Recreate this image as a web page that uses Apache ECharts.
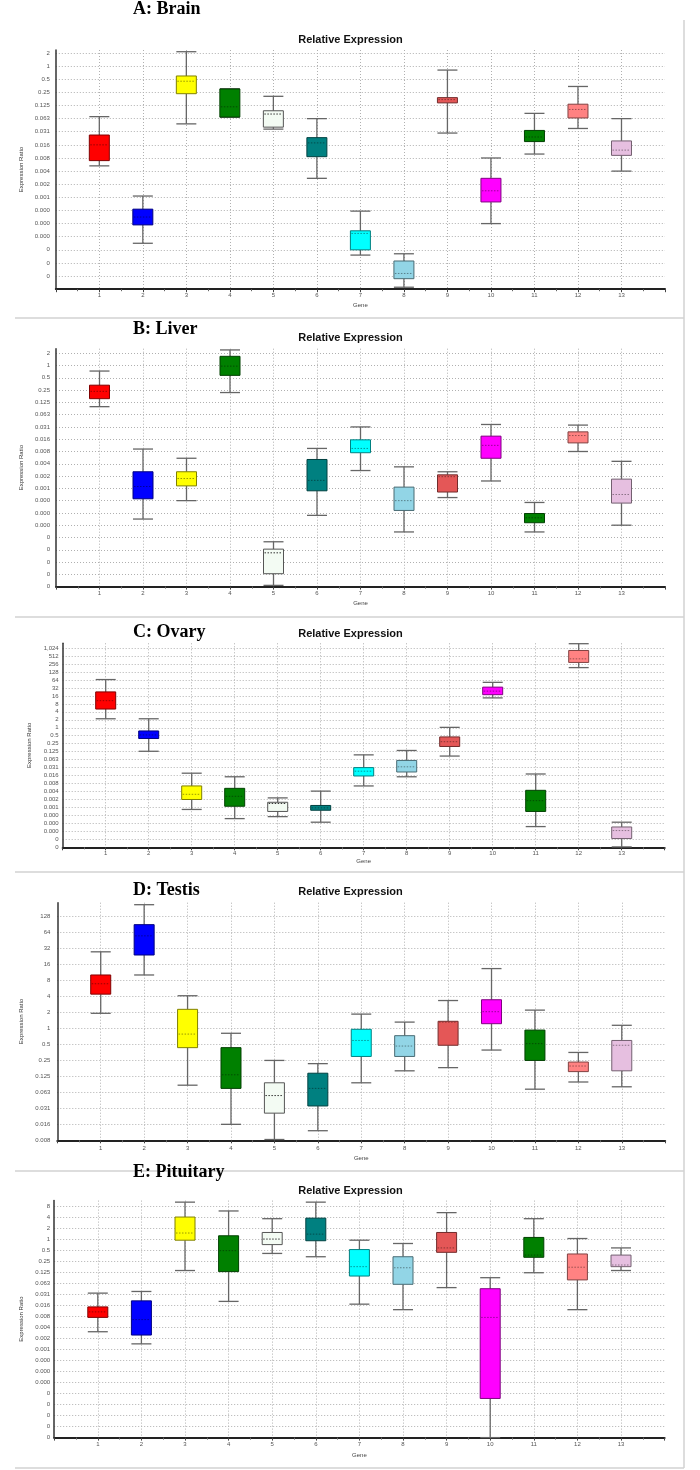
<!DOCTYPE html>
<html><head><meta charset="utf-8">
<script src="https://cdn.jsdelivr.net/npm/echarts@6/dist/echarts.min.js"></script>
<style>html,body{margin:0;padding:0;background:#fff}#c{width:700px;height:1470px}</style>
</head><body><div id="c"></div>
<script>
// ---- text ----
const panelNames = ['A: Brain', 'B: Liver', 'C: Ovary', 'D: Testis', 'E: Pituitary'];
const chartTitle = 'Relative Expression';
const yAxisName = 'Expression Ratio';
const xAxisName = 'Gene';

// ---- categories ----
const genes = [1, 2, 3, 4, 5, 6, 7, 8, 9, 10, 11, 12, 13];
const geneColors = ['#ff0000', '#0000ff', '#ffff00', '#008000', '#f3fbf3', '#008080', '#00ffff',
                    '#92d5e6', '#e45757', '#ff00ff', '#008000', '#ff8282', '#e6bfe0'];

// ---- values: [min, Q1, median, Q3, max] as log2(expression ratio) ----
const brain = [
  [-7.6, -7.2, -6.0, -5.25, -3.85],
  [-13.5, -12.1, -11.5, -10.9, -9.9],
  [-4.4, -2.1, -1.15, -0.75, 1.1],
  [-3.9, -3.88, -3.1, -1.74, -1.72],
  [-4.8, -4.65, -3.65, -3.4, -2.3],
  [-8.55, -6.9, -5.85, -5.45, -4.0],
  [-14.4, -14.0, -12.75, -12.55, -11.05],
  [-16.85, -16.2, -15.8, -14.85, -14.3],
  [-5.1, -2.8, -2.55, -2.4, -0.3],
  [-12.0, -10.35, -9.5, -8.55, -7.0],
  [-6.7, -5.75, -5.4, -4.9, -3.6],
  [-4.75, -3.95, -3.3, -2.9, -1.55],
  [-8.0, -6.8, -6.4, -5.7, -4.0]
];
const liver = [
  [-3.35, -2.7, -2.1, -1.6, -0.45],
  [-12.5, -10.85, -9.85, -8.65, -6.8],
  [-11.0, -9.8, -9.2, -8.65, -7.55],
  [-2.2, -0.8, -0.05, 0.75, 1.27],
  [-17.9, -16.95, -15.25, -14.95, -14.35],
  [-12.2, -10.2, -9.35, -7.65, -6.75],
  [-8.55, -7.1, -6.75, -6.05, -5.0],
  [-13.55, -11.8, -11.0, -9.9, -8.25],
  [-10.75, -10.3, -9.05, -8.9, -8.65],
  [-9.4, -7.55, -6.5, -5.75, -4.8],
  [-13.55, -12.8, -12.4, -12.05, -11.15],
  [-7.0, -6.3, -5.7, -5.4, -4.85],
  [-13.0, -11.2, -10.5, -9.25, -7.8]
];
const ovary = [
  [1.13, 2.35, 3.4, 4.5, 6.05],
  [-2.95, -1.35, -0.9, -0.4, 1.13],
  [-10.25, -9.0, -8.35, -7.3, -5.7],
  [-11.4, -9.85, -8.6, -7.6, -6.15],
  [-11.15, -10.5, -9.5, -9.35, -8.8],
  [-11.85, -10.35, -10.05, -9.75, -7.95],
  [-7.3, -6.05, -5.45, -5.0, -3.4],
  [-6.15, -5.55, -4.9, -4.1, -2.85],
  [-3.55, -2.35, -1.75, -1.15, 0.05],
  [3.75, 4.15, 4.6, 5.1, 5.7],
  [-12.4, -10.5, -9.15, -7.85, -5.8],
  [7.55, 8.2, 8.65, 9.7, 10.55],
  [-14.95, -13.9, -12.9, -12.45, -11.85]
];
const testis = [
  [0.95, 2.15, 2.8, 3.35, 4.8],
  [3.35, 4.6, 5.8, 6.5, 7.75],
  [-3.55, -1.2, -0.35, 1.2, 2.05],
  [-6.0, -3.75, -2.9, -1.2, -0.3],
  [-6.95, -5.3, -4.2, -3.4, -2.0],
  [-6.4, -4.85, -3.75, -2.8, -2.2],
  [-3.4, -1.75, -0.75, -0.05, 0.9],
  [-2.65, -1.75, -1.1, -0.45, 0.4],
  [-2.45, -1.05, 0.4, 0.45, 1.75],
  [-1.35, 0.3, 1.05, 1.8, 3.75],
  [-3.8, -2.0, -0.95, -0.1, 1.15],
  [-3.35, -2.7, -2.35, -2.1, -1.5],
  [-3.65, -2.65, -1.05, -0.75, 0.2]
];
const pituitary = [
  [-8.4, -7.1, -6.6, -6.15, -4.9],
  [-9.5, -8.7, -7.3, -5.6, -4.75],
  [-2.85, -0.1, 0.55, 2.0, 3.35],
  [-5.65, -2.95, -1.05, 0.3, 2.55],
  [-1.3, -0.5, 0.0, 0.6, 1.85],
  [-1.6, -0.15, 0.45, 1.9, 3.35],
  [-5.9, -3.35, -2.5, -0.95, -0.1],
  [-6.4, -4.1, -2.6, -1.6, -0.4],
  [-4.4, -1.2, -0.8, 0.6, 2.4],
  [-18.0, -14.45, -7.1, -4.5, -3.5],
  [-3.05, -1.65, -1.45, 0.15, 1.85],
  [-6.4, -3.7, -2.55, -1.35, 0.05],
  [-2.85, -2.5, -2.35, -1.45, -0.8]
];
const panelData = [brain, liver, ovary, testis, pituitary];

// ---- layout (pixels) ----
const layout = [
  {grid: {left: 55.8, top: 50, width: 609.2, height: 239.2}, yMin: -17, yMax: 1.23, showMin: false,
   yLM: 6, yNG: 18, xLM: 3, xNG: 13, titleY: 9, subY: 40},
  {grid: {left: 56, top: 348.7, width: 609, height: 237.9}, yMin: -18, yMax: 1.37, showMin: true,
   yLM: 6, yNG: 17, xLM: 4, xNG: 14, titleY: 329, subY: 338},
  {grid: {left: 62.7, top: 643.3, width: 602, height: 204}, yMin: -15, yMax: 10.6, showMin: true,
   yLM: 4, yNG: 24, xLM: 3, xNG: 11, titleY: 632, subY: 634},
  {grid: {left: 57.3, top: 902.7, width: 607.9, height: 237.6}, yMin: -7, yMax: 7.875, showMin: true,
   yLM: 7, yNG: 18, xLM: 5, xNG: 15, titleY: 890, subY: 892},
  {grid: {left: 54.2, top: 1200.6, width: 610.4, height: 237}, yMin: -18, yMax: 3.49, showMin: true,
   yLM: 4, yNG: 16, xLM: 4, xNG: 15, titleY: 1172, subY: 1191}
];
const separatorsY = [318, 617, 872, 1171, 1468];

function ratioLabel(v) {
  if (Math.abs(v - Math.round(v)) > 1e-6) return '';
  const p = Math.pow(2, Math.round(v));
  if (p >= 1) return p.toLocaleString('en-US');
  if (p < 0.0001) return '0';
  if (p >= 0.125) return String(p);
  return p.toFixed(3);
}
function shade(hex, f) {
  const n = parseInt(hex.slice(1), 16);
  const r = Math.round(((n >> 16) & 255) * f), g = Math.round(((n >> 8) & 255) * f), b = Math.round((n & 255) * f);
  return 'rgb(' + r + ',' + g + ',' + b + ')';
}

function renderBox(params, api) {
  const x = api.value(0);
  const c = geneColors[x - 1];
  const bw = 20, h = bw / 2;
  const pMin = api.coord([x, api.value(1)]);
  const pQ1 = api.coord([x, api.value(2)]);
  const pMed = api.coord([x, api.value(3)]);
  const pQ3 = api.coord([x, api.value(4)]);
  const pMax = api.coord([x, api.value(5)]);
  const cx = pMax[0];
  const ws = {stroke: '#666', lineWidth: 1.3};
  const border = x === 5 ? '#555' : shade(c, 0.5);
  const med = x === 5 ? '#333' : shade(c, 0.6);
  return {type: 'group', children: [
    {type: 'line', shape: {x1: cx, y1: pMax[1], x2: cx, y2: pQ3[1]}, style: ws},
    {type: 'line', shape: {x1: cx, y1: pQ1[1], x2: cx, y2: pMin[1]}, style: ws},
    {type: 'line', shape: {x1: cx - h, y1: pMax[1], x2: cx + h, y2: pMax[1]}, style: ws},
    {type: 'line', shape: {x1: cx - h, y1: pMin[1], x2: cx + h, y2: pMin[1]}, style: ws},
    {type: 'rect', shape: {x: cx - h, y: pQ3[1], width: bw, height: Math.max(1, pQ1[1] - pQ3[1])},
     style: {fill: c, stroke: border, lineWidth: 1}},
    {type: 'line', shape: {x1: cx - h + 1, y1: pMed[1], x2: cx + h - 1, y2: pMed[1]},
     style: {stroke: med, lineWidth: 1, lineDash: [1.5, 1.5]}}
  ]};
}

const grids = [], xAxes = [], yAxes = [], series = [], graphics = [];
const gridLine = {type: [1, 2], color: '#b0b0b0', width: 1};
layout.forEach((L, i) => {
  grids.push(Object.assign({containLabel: false}, L.grid));
  xAxes.push({
    gridIndex: i, type: 'value', min: 0, max: 14, interval: 1,
    axisLine: {show: true, onZero: false, lineStyle: {color: '#222', width: 2}},
    axisTick: {show: true, length: 3, lineStyle: {color: '#444'}},
    minorTick: {show: true, splitNumber: 2, length: 2, lineStyle: {color: '#666'}},
    axisLabel: {fontSize: 6, color: '#555', margin: L.xLM, fontFamily: 'Liberation Sans',
      formatter: v => (v >= 1 && v <= 13) ? String(genes[v - 1]) : ''},
    splitLine: {show: true, showMinLine: false, showMaxLine: false, lineStyle: gridLine},
    name: xAxisName, nameLocation: 'middle', nameGap: L.xNG,
    nameTextStyle: {fontSize: 6, color: '#444', fontFamily: 'Liberation Sans'}
  });
  yAxes.push({
    gridIndex: i, type: 'value', min: L.yMin, max: L.yMax, interval: 1,
    axisLine: {show: true, onZero: false, lineStyle: {color: '#333', width: 1.5}},
    axisTick: {show: false},
    axisLabel: {fontSize: 6, color: '#555', margin: L.yLM, fontFamily: 'Liberation Sans',
      showMinLabel: L.showMin, showMaxLabel: false, formatter: ratioLabel},
    splitLine: {show: true, showMaxLine: false, lineStyle: gridLine},
    name: yAxisName, nameLocation: 'middle', nameGap: L.yNG, nameRotate: 90,
    nameTextStyle: {fontSize: 6, color: '#333', fontFamily: 'Liberation Sans'}
  });
  series.push({
    type: 'custom', xAxisIndex: i, yAxisIndex: i, renderItem: renderBox, silent: true, clip: false,
    encode: {x: 0, y: [1, 2, 3, 4, 5]},
    data: panelData[i].map((r, j) => [genes[j]].concat(r))
  });
});
separatorsY.forEach(y => graphics.push({type: 'line', shape: {x1: 15, y1: y, x2: 684, y2: y},
  style: {stroke: '#d2d2d2', lineWidth: 1.5}, z: 0}));
graphics.push({type: 'line', shape: {x1: 684, y1: 20, x2: 684, y2: 1468},
  style: {stroke: '#d2d2d2', lineWidth: 1.5}, z: 0});
layout.forEach((L, i) => {
  graphics.push({type: 'text', x: 133, y: L.titleY, z: 10,
    style: {text: panelNames[i], font: 'bold 18px "Liberation Serif"', fill: '#000', align: 'left', verticalAlign: 'middle'}});
  graphics.push({type: 'text', x: 350.5, y: L.subY, z: 10,
    style: {text: chartTitle, font: 'bold 11px "Liberation Sans"', fill: '#111', align: 'center', verticalAlign: 'middle'}});
});

const chart = echarts.init(document.getElementById('c'), null, {renderer: 'canvas'});
chart.setOption({
  animation: false,
  backgroundColor: '#fff',
  grid: grids, xAxis: xAxes, yAxis: yAxes, series: series,
  graphic: graphics
});
</script></body></html>
